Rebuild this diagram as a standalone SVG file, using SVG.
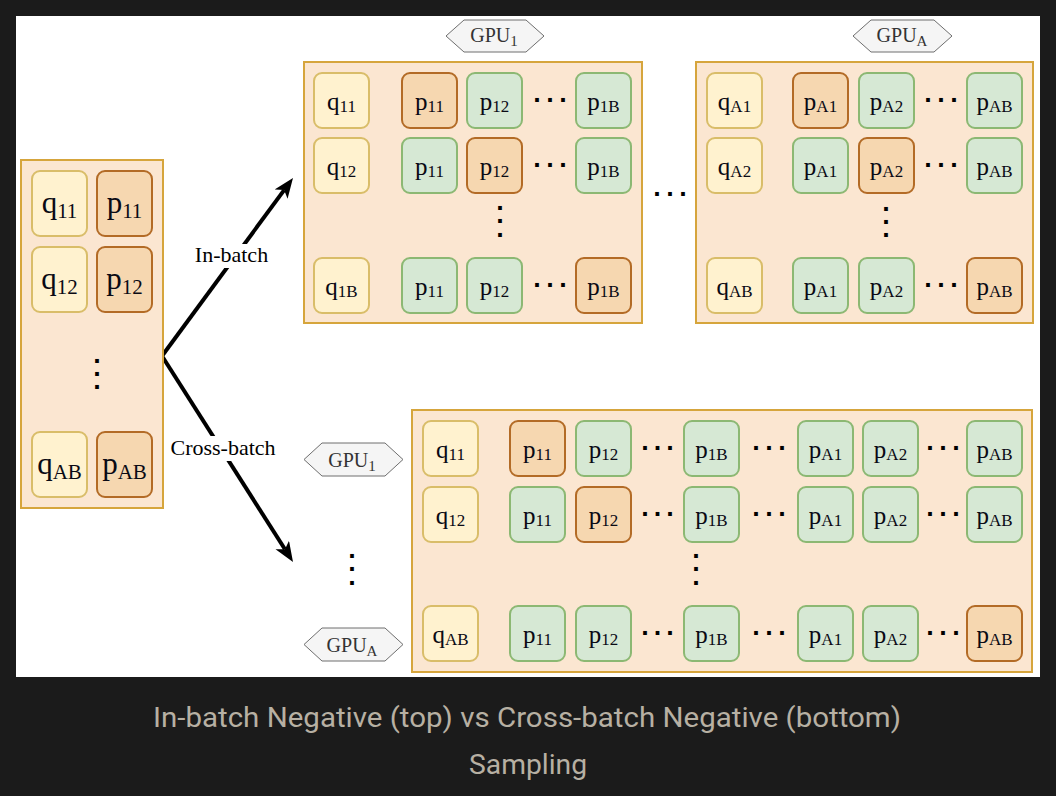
<svg xmlns="http://www.w3.org/2000/svg" width="1056" height="796" viewBox="0 0 1056 796">
<defs>
<style>
.panel{fill:#fbe6d1;stroke:#d6a53c;stroke-width:2}
.q{fill:#fff2cf;stroke:#d9bd69;stroke-width:2}
.po{fill:#f6d7b0;stroke:#b36b26;stroke-width:2}
.pg{fill:#d6e8d4;stroke:#8cb873;stroke-width:2}
.hex{fill:#f5f5f5;stroke:#6e6e6e;stroke-width:1}
.t{font-family:"Liberation Serif","Times New Roman",serif;font-size:25px;fill:#0a0a14;text-anchor:middle}
.tl{font-family:"Liberation Serif","Times New Roman",serif;font-size:31px;fill:#0a0a14;text-anchor:middle}
.s{font-size:17px}
.sl{font-size:21px}
.ht{font-family:"Liberation Serif","Times New Roman",serif;font-size:20px;fill:#333;text-anchor:middle}
.hs{font-size:15px}
.lbl{font-family:"Liberation Serif","Times New Roman",serif;font-size:22px;fill:#000;text-anchor:middle}
.dot{font-family:"DejaVu Sans",sans-serif;font-weight:bold;font-size:21px;fill:#000;text-anchor:middle}
.cap{font-family:Roboto,"Liberation Sans",sans-serif;font-size:27px;fill:#b7b0a3;text-anchor:middle}
.edge{fill:none;stroke:#000;stroke-width:4}
</style>
<marker id="arr" markerUnits="userSpaceOnUse" markerWidth="22" markerHeight="18" viewBox="0 0 22 18" refX="5" refY="8" orient="auto">
<path d="M0,0 L20,8 L0,16 L5,8 z" fill="#000"/>
</marker>
</defs>
<rect x="0" y="0" width="1056" height="796" fill="#1b1b1b"/>
<rect x="16" y="16" width="1024" height="661" fill="#ffffff"/>

<!-- connectors -->
<g id="connectors">
<path class="edge" d="M162,356 L284.1,190.1" marker-end="url(#arr)"/>
<path class="edge" d="M162,356 L284.95,549.3" marker-end="url(#arr)"/>
<g id="label-inbatch"><rect x="190" y="244" width="83" height="24" fill="#fff"/><text class="lbl" x="231.5" y="262">In-batch</text></g>
<g id="label-crossbatch"><rect x="166" y="436" width="114" height="25" fill="#fff"/><text class="lbl" x="223" y="455">Cross-batch</text></g>
</g>

<!-- left panel -->
<g id="left-panel">
<rect class="panel" x="21" y="160" width="142" height="348"/>
<g id="L-q11"><rect class="q" x="32" y="171" width="55" height="65" rx="8"/><text class="tl" x="59.5" y="212.5">q<tspan class="sl" dy="5">11</tspan></text></g>
<g id="L-p11"><rect class="po" x="97" y="171" width="55" height="65" rx="8"/><text class="tl" x="124.5" y="212.5">p<tspan class="sl" dy="5">11</tspan></text></g>
<g id="L-q12"><rect class="q" x="32" y="247" width="55" height="65" rx="8"/><text class="tl" x="59.5" y="288.5">q<tspan class="sl" dy="5">12</tspan></text></g>
<g id="L-p12"><rect class="po" x="97" y="247" width="55" height="65" rx="8"/><text class="tl" x="124.5" y="288.5">p<tspan class="sl" dy="5">12</tspan></text></g>
<g id="L-qAB"><rect class="q" x="32" y="432" width="55" height="65" rx="8"/><text class="tl" x="59.5" y="473.5">q<tspan class="sl" dy="5">AB</tspan></text></g>
<g id="L-pAB"><rect class="po" x="97" y="432" width="55" height="65" rx="8"/><text class="tl" x="124.5" y="473.5">p<tspan class="sl" dy="5">AB</tspan></text></g>
<text class="dot" x="97 97 97" y="362.5 375.5 388.5">...</text>
</g>

<!-- top GPU1 panel -->
<g id="hex-top-gpu1"><polygon class="hex" points="446,36 464,20 526,20 544,36 526,52 464,52"/><text class="ht" x="494" y="42">GPU<tspan class="hs" dy="4">1</tspan></text></g>
<g id="inbatch-gpu1">
<rect class="panel" x="304" y="62" width="338" height="261"/>
<g id="A-r1-q"><rect class="q" x="314" y="73" width="55" height="55" rx="8"/><text class="t" x="341.5" y="109.5">q<tspan class="s" dy="2.5">11</tspan></text></g>
<g id="A-r1-p11"><rect class="po" x="402" y="73" width="55" height="55" rx="8"/><text class="t" x="429.5" y="109.5">p<tspan class="s" dy="2.5">11</tspan></text></g>
<g id="A-r1-p12"><rect class="pg" x="467" y="73" width="55" height="55" rx="8"/><text class="t" x="494.5" y="109.5">p<tspan class="s" dy="2.5">12</tspan></text></g>
<g id="A-r1-p1B"><rect class="pg" x="576" y="73" width="55" height="55" rx="8"/><text class="t" x="603.5" y="109.5">p<tspan class="s" dy="2.5">1B</tspan></text></g>
<g id="A-r2-q"><rect class="q" x="314" y="138" width="55" height="55" rx="8"/><text class="t" x="341.5" y="174.5">q<tspan class="s" dy="2.5">12</tspan></text></g>
<g id="A-r2-p11"><rect class="pg" x="402" y="138" width="55" height="55" rx="8"/><text class="t" x="429.5" y="174.5">p<tspan class="s" dy="2.5">11</tspan></text></g>
<g id="A-r2-p12"><rect class="po" x="467" y="138" width="55" height="55" rx="8"/><text class="t" x="494.5" y="174.5">p<tspan class="s" dy="2.5">12</tspan></text></g>
<g id="A-r2-p1B"><rect class="pg" x="576" y="138" width="55" height="55" rx="8"/><text class="t" x="603.5" y="174.5">p<tspan class="s" dy="2.5">1B</tspan></text></g>
<g id="A-r3-q"><rect class="q" x="314" y="258" width="55" height="55" rx="8"/><text class="t" x="341.5" y="294.5">q<tspan class="s" dy="2.5">1B</tspan></text></g>
<g id="A-r3-p11"><rect class="pg" x="402" y="258" width="55" height="55" rx="8"/><text class="t" x="429.5" y="294.5">p<tspan class="s" dy="2.5">11</tspan></text></g>
<g id="A-r3-p12"><rect class="pg" x="467" y="258" width="55" height="55" rx="8"/><text class="t" x="494.5" y="294.5">p<tspan class="s" dy="2.5">12</tspan></text></g>
<g id="A-r3-p1B"><rect class="po" x="576" y="258" width="55" height="55" rx="8"/><text class="t" x="603.5" y="294.5">p<tspan class="s" dy="2.5">1B</tspan></text></g>
<text class="dot" x="537 550 563" y="102">...</text>
<text class="dot" x="537 550 563" y="167">...</text>
<text class="dot" x="537 550 563" y="287">...</text>
<text class="dot" x="500 500 500" y="209.5 223 236.5">...</text>
</g>

<text class="dot" x="657 670 683" y="195.5">...</text>

<!-- top GPUA panel -->
<g id="hex-top-gpuA"><polygon class="hex" points="853,36 871,20 934,20 952,36 934,52 871,52"/><text class="ht" x="902" y="42">GPU<tspan class="hs" dy="4">A</tspan></text></g>
<g id="inbatch-gpuA">
<rect class="panel" x="696" y="62" width="337" height="261"/>
<g id="B-r1-q"><rect class="q" x="707" y="73" width="55" height="55" rx="8"/><text class="t" x="734.5" y="109.5">q<tspan class="s" dy="2.5">A1</tspan></text></g>
<g id="B-r1-pA1"><rect class="po" x="793" y="73" width="55" height="55" rx="8"/><text class="t" x="820.5" y="109.5">p<tspan class="s" dy="2.5">A1</tspan></text></g>
<g id="B-r1-pA2"><rect class="pg" x="859" y="73" width="55" height="55" rx="8"/><text class="t" x="886.5" y="109.5">p<tspan class="s" dy="2.5">A2</tspan></text></g>
<g id="B-r1-pAB"><rect class="pg" x="967" y="73" width="55" height="55" rx="8"/><text class="t" x="994.5" y="109.5">p<tspan class="s" dy="2.5">AB</tspan></text></g>
<g id="B-r2-q"><rect class="q" x="707" y="138" width="55" height="55" rx="8"/><text class="t" x="734.5" y="174.5">q<tspan class="s" dy="2.5">A2</tspan></text></g>
<g id="B-r2-pA1"><rect class="pg" x="793" y="138" width="55" height="55" rx="8"/><text class="t" x="820.5" y="174.5">p<tspan class="s" dy="2.5">A1</tspan></text></g>
<g id="B-r2-pA2"><rect class="po" x="859" y="138" width="55" height="55" rx="8"/><text class="t" x="886.5" y="174.5">p<tspan class="s" dy="2.5">A2</tspan></text></g>
<g id="B-r2-pAB"><rect class="pg" x="967" y="138" width="55" height="55" rx="8"/><text class="t" x="994.5" y="174.5">p<tspan class="s" dy="2.5">AB</tspan></text></g>
<g id="B-r3-q"><rect class="q" x="707" y="258" width="55" height="55" rx="8"/><text class="t" x="734.5" y="294.5">q<tspan class="s" dy="2.5">AB</tspan></text></g>
<g id="B-r3-pA1"><rect class="pg" x="793" y="258" width="55" height="55" rx="8"/><text class="t" x="820.5" y="294.5">p<tspan class="s" dy="2.5">A1</tspan></text></g>
<g id="B-r3-pA2"><rect class="pg" x="859" y="258" width="55" height="55" rx="8"/><text class="t" x="886.5" y="294.5">p<tspan class="s" dy="2.5">A2</tspan></text></g>
<g id="B-r3-pAB"><rect class="po" x="967" y="258" width="55" height="55" rx="8"/><text class="t" x="994.5" y="294.5">p<tspan class="s" dy="2.5">AB</tspan></text></g>
<text class="dot" x="928 941 954" y="102">...</text>
<text class="dot" x="928 941 954" y="167">...</text>
<text class="dot" x="928 941 954" y="287">...</text>
<text class="dot" x="886 886 886" y="210.5 223.5 236.5">...</text>
</g>

<!-- bottom GPU labels -->
<g id="hex-bot-gpu1"><polygon class="hex" points="304,459.5 322,443 385,443 403,459.5 385,476 322,476"/><text class="ht" x="352" y="466.5">GPU<tspan class="hs" dy="4">1</tspan></text></g>
<g id="hex-bot-gpuA"><polygon class="hex" points="304,644.5 322,628 385,628 403,644.5 385,661 322,661"/><text class="ht" x="352" y="651.5">GPU<tspan class="hs" dy="4">A</tspan></text></g>
<text class="dot" x="352 352 352" y="557.5 570.5 584.5">...</text>

<!-- bottom cross-batch panel -->
<g id="crossbatch">
<rect class="panel" x="412" y="410" width="620" height="262"/>
<g id="C-r1-q"><rect class="q" x="423" y="421" width="55" height="55" rx="8"/><text class="t" x="450.5" y="457.5">q<tspan class="s" dy="2.5">11</tspan></text></g>
<g id="C-r1-p11"><rect class="po" x="510" y="421" width="55" height="55" rx="8"/><text class="t" x="537.5" y="457.5">p<tspan class="s" dy="2.5">11</tspan></text></g>
<g id="C-r1-p12"><rect class="pg" x="576" y="421" width="55" height="55" rx="8"/><text class="t" x="603.5" y="457.5">p<tspan class="s" dy="2.5">12</tspan></text></g>
<g id="C-r1-p1B"><rect class="pg" x="684" y="421" width="55" height="55" rx="8"/><text class="t" x="711.5" y="457.5">p<tspan class="s" dy="2.5">1B</tspan></text></g>
<g id="C-r1-pA1"><rect class="pg" x="798" y="421" width="55" height="55" rx="8"/><text class="t" x="825.5" y="457.5">p<tspan class="s" dy="2.5">A1</tspan></text></g>
<g id="C-r1-pA2"><rect class="pg" x="863" y="421" width="55" height="55" rx="8"/><text class="t" x="890.5" y="457.5">p<tspan class="s" dy="2.5">A2</tspan></text></g>
<g id="C-r1-pAB"><rect class="pg" x="967" y="421" width="55" height="55" rx="8"/><text class="t" x="994.5" y="457.5">p<tspan class="s" dy="2.5">AB</tspan></text></g>
<g id="C-r2-q"><rect class="q" x="423" y="487" width="55" height="55" rx="8"/><text class="t" x="450.5" y="523.5">q<tspan class="s" dy="2.5">12</tspan></text></g>
<g id="C-r2-p11"><rect class="pg" x="510" y="487" width="55" height="55" rx="8"/><text class="t" x="537.5" y="523.5">p<tspan class="s" dy="2.5">11</tspan></text></g>
<g id="C-r2-p12"><rect class="po" x="576" y="487" width="55" height="55" rx="8"/><text class="t" x="603.5" y="523.5">p<tspan class="s" dy="2.5">12</tspan></text></g>
<g id="C-r2-p1B"><rect class="pg" x="684" y="487" width="55" height="55" rx="8"/><text class="t" x="711.5" y="523.5">p<tspan class="s" dy="2.5">1B</tspan></text></g>
<g id="C-r2-pA1"><rect class="pg" x="798" y="487" width="55" height="55" rx="8"/><text class="t" x="825.5" y="523.5">p<tspan class="s" dy="2.5">A1</tspan></text></g>
<g id="C-r2-pA2"><rect class="pg" x="863" y="487" width="55" height="55" rx="8"/><text class="t" x="890.5" y="523.5">p<tspan class="s" dy="2.5">A2</tspan></text></g>
<g id="C-r2-pAB"><rect class="pg" x="967" y="487" width="55" height="55" rx="8"/><text class="t" x="994.5" y="523.5">p<tspan class="s" dy="2.5">AB</tspan></text></g>
<g id="C-r3-q"><rect class="q" x="423" y="606" width="55" height="55" rx="8"/><text class="t" x="450.5" y="642.5">q<tspan class="s" dy="2.5">AB</tspan></text></g>
<g id="C-r3-p11"><rect class="pg" x="510" y="606" width="55" height="55" rx="8"/><text class="t" x="537.5" y="642.5">p<tspan class="s" dy="2.5">11</tspan></text></g>
<g id="C-r3-p12"><rect class="pg" x="576" y="606" width="55" height="55" rx="8"/><text class="t" x="603.5" y="642.5">p<tspan class="s" dy="2.5">12</tspan></text></g>
<g id="C-r3-p1B"><rect class="pg" x="684" y="606" width="55" height="55" rx="8"/><text class="t" x="711.5" y="642.5">p<tspan class="s" dy="2.5">1B</tspan></text></g>
<g id="C-r3-pA1"><rect class="pg" x="798" y="606" width="55" height="55" rx="8"/><text class="t" x="825.5" y="642.5">p<tspan class="s" dy="2.5">A1</tspan></text></g>
<g id="C-r3-pA2"><rect class="pg" x="863" y="606" width="55" height="55" rx="8"/><text class="t" x="890.5" y="642.5">p<tspan class="s" dy="2.5">A2</tspan></text></g>
<g id="C-r3-pAB"><rect class="po" x="967" y="606" width="55" height="55" rx="8"/><text class="t" x="994.5" y="642.5">p<tspan class="s" dy="2.5">AB</tspan></text></g>
<text class="dot" x="645 657.5 670" y="450">...</text>
<text class="dot" x="756 769 782" y="450">...</text>
<text class="dot" x="930 943 956" y="450">...</text>
<text class="dot" x="645 657.5 670" y="516">...</text>
<text class="dot" x="756 769 782" y="516">...</text>
<text class="dot" x="930 943 956" y="516">...</text>
<text class="dot" x="645 657.5 670" y="635">...</text>
<text class="dot" x="756 769 782" y="635">...</text>
<text class="dot" x="930 943 956" y="635">...</text>
<text class="dot" x="696 696 696" y="557.5 570.5 584.5">...</text>
</g>

<!-- caption -->
<text class="cap" x="527" y="727" textLength="748" lengthAdjust="spacingAndGlyphs">In-batch Negative (top) vs Cross-batch Negative (bottom)</text>
<text class="cap" x="528" y="774" textLength="118" lengthAdjust="spacingAndGlyphs">Sampling</text>
</svg>
